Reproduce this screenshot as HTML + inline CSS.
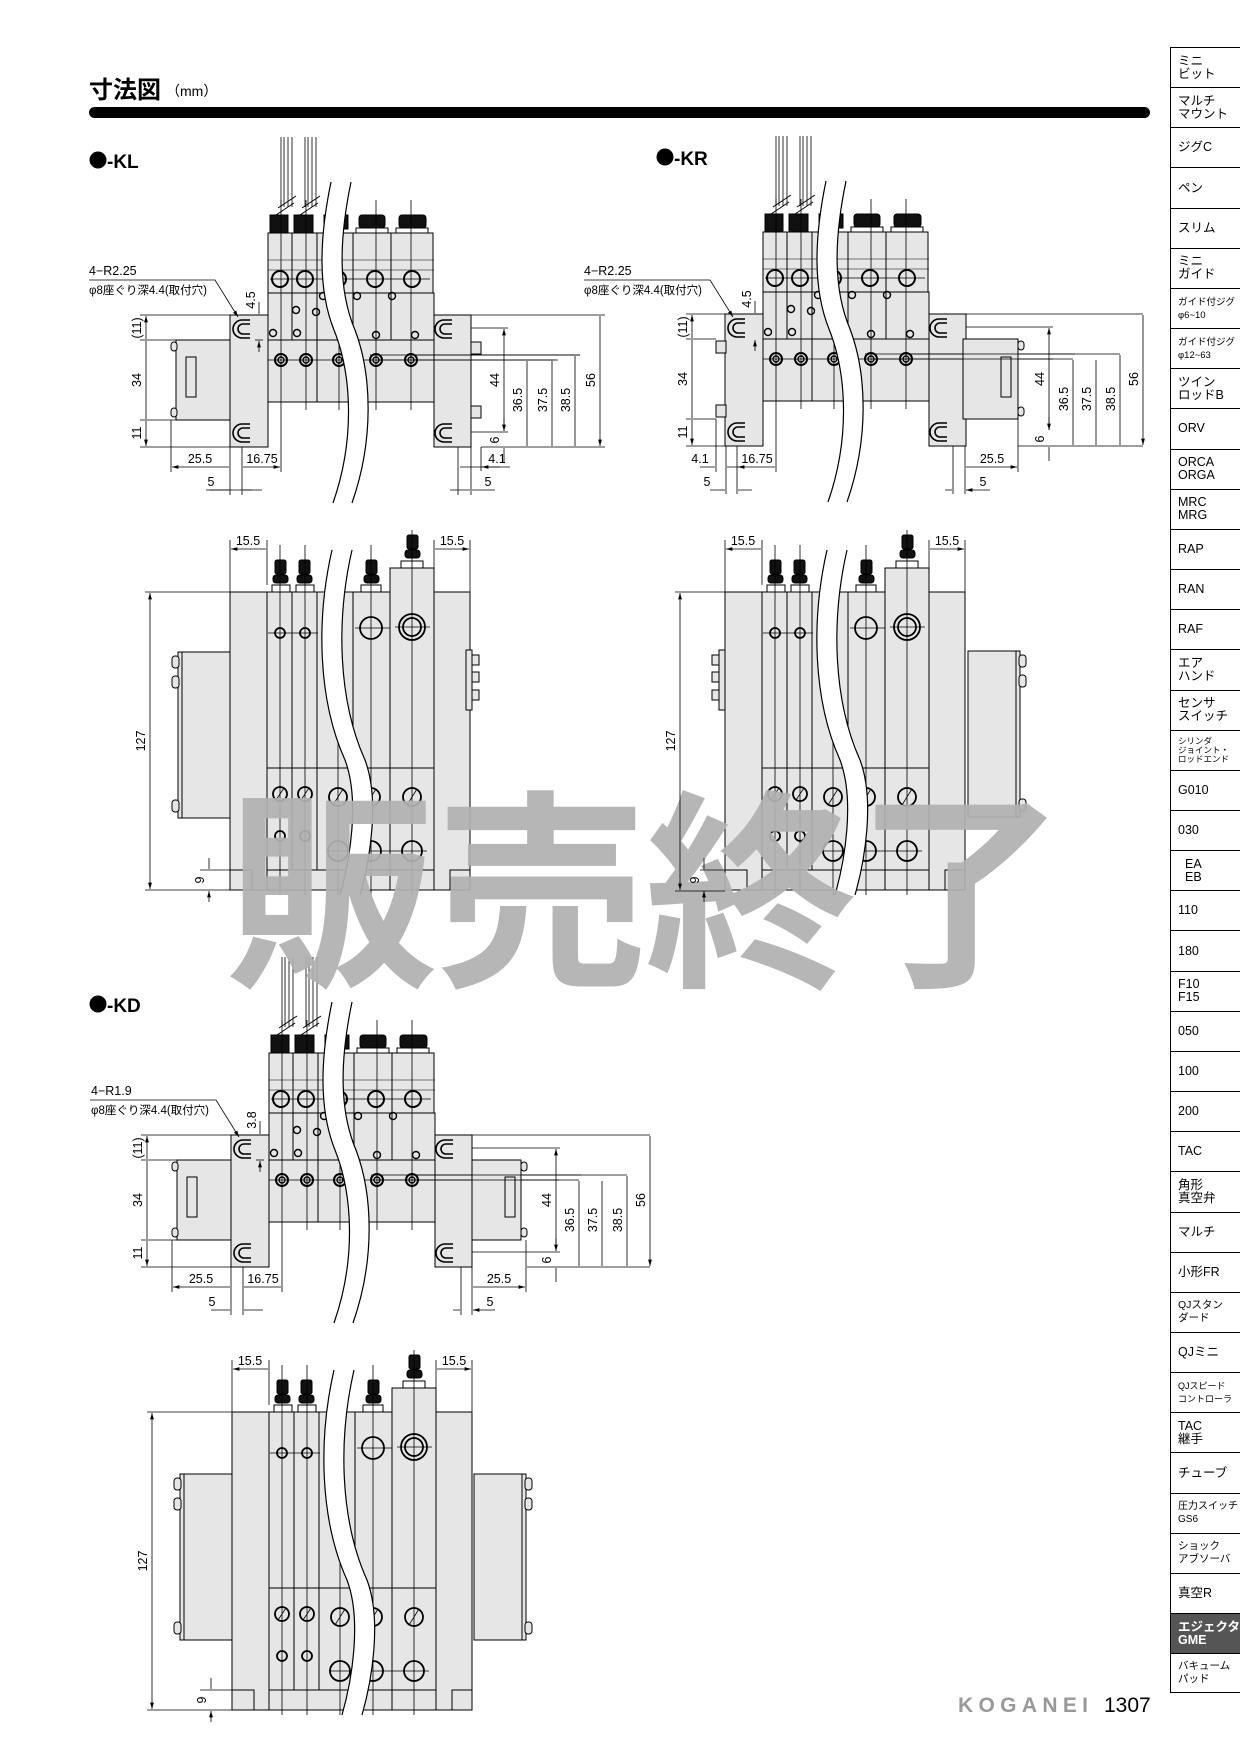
<!DOCTYPE html>
<html><head><meta charset="utf-8"><style>
html,body{margin:0;padding:0;background:#fff}
body{width:1240px;height:1754px;position:relative;overflow:hidden;font-family:"Liberation Sans","Noto Sans CJK JP",sans-serif}
#sb{position:absolute;left:1170px;top:47px;width:70px}
#sb div{border-top:1px solid #000;border-left:1px solid #000;font-size:12.5px;line-height:13px;padding:0 0 0 7px;box-sizing:border-box;height:40.17px;display:flex;flex-direction:column;justify-content:center}
#sb div.d{background:#555;color:#fff;font-weight:bold}
#sb div:last-child{border-bottom:1px solid #000}
svg text{font-family:"Liberation Sans","Noto Sans CJK JP",sans-serif}
</style></head><body>
<svg width="1240" height="1754" viewBox="0 0 1240 1754" style="position:absolute;left:0;top:0">
<defs>
<marker id="a" viewBox="0 0 10 6" refX="10" refY="3" markerWidth="8" markerHeight="5" orient="auto-start-reverse"><path d="M0 0L10 3L0 6z" fill="#000"/></marker>
<g id="sideCore" stroke="#000" stroke-width="1">
 <rect x="230" y="315" width="38" height="132" fill="#e6e6e6"/>
 <rect x="434" y="315" width="37" height="132" fill="#e6e6e6"/>
 <path d="M250 320h-8a9 9 0 0 0 0 18h8M250 324h-7a5 5 0 0 0 0 10h7M250 424h-8a9 9 0 0 0 0 18h8M250 428h-7a5 5 0 0 0 0 10h7M452 320h-8a9 9 0 0 0 0 18h8M452 324h-7a5 5 0 0 0 0 10h7M452 424h-8a9 9 0 0 0 0 18h8M452 428h-7a5 5 0 0 0 0 10h7" fill="none" stroke-width="1.6"/>
 <rect x="268" y="340" width="166" height="62" fill="#e6e6e6"/>
 <rect x="268" y="293" width="166" height="47" fill="#e6e6e6"/>
 <path d="M292 293v47M317 293v109M353 293v109M391 293v47" fill="none"/>
 <rect x="268" y="233" width="24" height="60" fill="#e6e6e6"/><rect x="292" y="233" width="25" height="60" fill="#e6e6e6"/>
 <rect x="317" y="233" width="36" height="60" fill="#e6e6e6"/><rect x="353" y="233" width="38" height="60" fill="#e6e6e6"/><rect x="391" y="233" width="42" height="60" fill="#e6e6e6"/>
 <rect x="270" y="215" width="18" height="18" fill="#111"/><rect x="294" y="215" width="19" height="18" fill="#111"/><rect x="324" y="215" width="24" height="14" fill="#111"/><rect x="359" y="215" width="26" height="13" rx="3" fill="#111"/><rect x="399" y="215" width="27" height="13" rx="3" fill="#111"/>
 <rect x="356" y="228" width="32" height="5" fill="#fff"/><rect x="396" y="228" width="32" height="5" fill="#fff"/>
 <path d="M268 260h166M268 270h166" fill="none" stroke-width=".6"/>
 <g fill="none" stroke-width="2"><circle cx="280" cy="279" r="8"/><circle cx="305" cy="279" r="8"/><circle cx="338" cy="279" r="8"/><circle cx="375" cy="279" r="8"/><circle cx="412" cy="279" r="8"/>
 <circle cx="281" cy="360" r="6"/><circle cx="306" cy="360" r="6"/><circle cx="339" cy="360" r="6"/><circle cx="376" cy="360" r="6"/><circle cx="411" cy="360" r="6"/></g>
 <g fill="none" stroke-width="1.4"><circle cx="281" cy="360" r="3"/><circle cx="306" cy="360" r="3"/><circle cx="339" cy="360" r="3"/><circle cx="376" cy="360" r="3"/><circle cx="411" cy="360" r="3"/>
 <circle cx="296" cy="310" r="3.5"/><circle cx="316" cy="312" r="3.5"/><circle cx="273" cy="333" r="3.5"/><circle cx="297" cy="333" r="3.5"/><circle cx="323" cy="296" r="3.5"/><circle cx="357" cy="296" r="3.5"/><circle cx="392" cy="296" r="3.5"/><circle cx="376" cy="335" r="3.5"/><circle cx="415" cy="335" r="3.5"/></g>
 <path d="M281 200v210M306 200v210M339 215v195M376 200v210M411 200v210M268 360h290M370 355h210M270 279h160" fill="none" stroke-width=".8"/>
 <path d="M281 137v70M292 137v70M305 137v70M316 137v70M284 137v70M288 137v70M308 137v70M312 137v70" fill="none" stroke-width=".8"/>
 <path d="M276 215l18-12M278 208l18-12M300 215l18-12M302 208l18-12" stroke-width="1"/>
 <path d="M331 182C319 240 318 290 334 330C352 375 355 440 333 503L352 503C374 440 372 375 355 330C338 290 339 240 351 182Z" fill="#fff" stroke="none"/>
 <path d="M331 182C319 240 318 290 334 330C352 375 355 440 333 503M351 182C339 240 338 290 355 330C372 375 374 440 352 503" fill="none" stroke-width="1.2"/>
</g>
<g id="topCore" stroke="#000" stroke-width="1">
 <rect x="230" y="592" width="37" height="298" fill="#e6e6e6"/>
 <rect x="267" y="592" width="167" height="298" fill="#e6e6e6"/>
 <rect x="390" y="568" width="44" height="322" fill="#e6e6e6"/>
 <rect x="434" y="592" width="36" height="298" fill="#e6e6e6"/>
 <path d="M230 870h22v20M450 890v-20h20M267 768h167M267 870h167M292 592v278M317 592v278M353 592v278" fill="none"/>
 <g fill="#fff"><rect x="272" y="585" width="18" height="7"/><rect x="296" y="585" width="18" height="7"/><rect x="361" y="585" width="20" height="7"/><rect x="401" y="561" width="22" height="7"/></g>
 <g fill="#111"><rect x="275" y="560" width="11" height="14" rx="2"/><rect x="273" y="575" width="15" height="8" rx="3"/><rect x="299" y="560" width="11" height="14" rx="2"/><rect x="297" y="575" width="15" height="8" rx="3"/><rect x="366" y="560" width="11" height="14" rx="2"/><rect x="364" y="575" width="15" height="8" rx="3"/><rect x="407" y="535" width="11" height="14" rx="2"/><rect x="405" y="550" width="15" height="8" rx="3"/></g>
 <g fill="none" stroke-width="1.8"><circle cx="280" cy="633" r="5"/><circle cx="305" cy="633" r="5"/><circle cx="371" cy="628" r="11"/><circle cx="412" cy="627" r="13"/><circle cx="412" cy="627" r="9"/>
 <circle cx="280" cy="794" r="7"/><circle cx="305" cy="794" r="7"/><circle cx="338" cy="797" r="9"/><circle cx="371" cy="797" r="9"/><circle cx="412" cy="797" r="9"/>
 <circle cx="280" cy="836" r="5"/><circle cx="305" cy="836" r="5"/><circle cx="338" cy="851" r="10"/><circle cx="371" cy="851" r="10"/><circle cx="412" cy="851" r="10"/></g>
 <path d="M276 800l8-12M301 800l8-12M333 805l10-16M366 805l10-16M407 805l10-16M280 545v350M305 545v350M338 592v303M371 545v350M412 530v365M268 633h50M355 628h35M395 627h35M327 851h100" fill="none" stroke-width=".8"/>
 <path d="M332 550C316 620 318 700 345 760C360 800 350 860 340 895L360 895C370 860 380 800 365 760C338 700 336 620 352 550Z" fill="#fff" stroke="none"/>
 <path d="M332 550C316 620 318 700 345 760C360 800 350 860 340 895M352 550C336 620 338 700 365 760C380 800 370 860 360 895" fill="none" stroke-width="1.2"/>
</g>
<g id="bigTab" stroke="#000" fill="#e6e6e6"><rect x="0" y="0" width="52" height="166"/><path d="M4 0v166" fill="none"/></g>
</defs>

<text x="89" y="98" font-size="24" font-weight="bold">寸法図</text><text x="166" y="96" font-size="14">（mm）</text>
<rect x="89" y="107" width="1061" height="11" rx="5.5" fill="#000"/>
<circle cx="98" cy="160" r="8.5"/><text x="107" y="168" font-size="19" font-weight="bold">-KL</text>
<circle cx="665" cy="157" r="8.5"/><text x="674" y="165" font-size="19" font-weight="bold">-KR</text>
<circle cx="98" cy="1004" r="8.5"/><text x="107" y="1012" font-size="19" font-weight="bold">-KD</text>

<use href="#sideCore"/>
<g stroke="#000" fill="#e6e6e6"><rect x="176" y="340" width="54" height="80"/><rect x="186" y="357" width="10" height="40" fill="none"/><rect x="171" y="342" width="6" height="9" rx="3"/><rect x="171" y="408" width="6" height="9" rx="3"/>
<rect x="471" y="342" width="10" height="12"/><rect x="471" y="406" width="10" height="12"/></g>
<use href="#sideCore" transform="translate(495,-1)"/>
<g stroke="#000" fill="#e6e6e6"><rect x="963" y="339" width="55" height="80"/><rect x="1001" y="357" width="10" height="40" fill="none"/><rect x="1018" y="341" width="6" height="9" rx="3"/><rect x="1018" y="407" width="6" height="9" rx="3"/>
<rect x="716" y="341" width="10" height="12"/><rect x="716" y="405" width="10" height="12"/></g>
<use href="#sideCore" transform="translate(1,820)"/>
<g stroke="#000" fill="#e6e6e6"><rect x="177" y="1160" width="54" height="80"/><rect x="187" y="1177" width="10" height="40" fill="none"/><rect x="172" y="1162" width="6" height="9" rx="3"/><rect x="172" y="1228" width="6" height="9" rx="3"/>
<rect x="472" y="1160" width="49" height="80"/><rect x="505" y="1177" width="10" height="40" fill="none"/><rect x="521" y="1162" width="6" height="9" rx="3"/><rect x="521" y="1228" width="6" height="9" rx="3"/></g>

<use href="#topCore"/>
<use href="#topCore" transform="translate(495,0)"/>
<use href="#topCore" transform="translate(2,820)"/>
<use href="#bigTab" transform="translate(178,652)"/>
<use href="#bigTab" transform="translate(1020,651) scale(-1,1)"/>
<use href="#bigTab" transform="translate(180,1474)"/>
<use href="#bigTab" transform="translate(526,1474) scale(-1,1)"/>
<g stroke="#000" fill="#e6e6e6">
<rect x="172" y="656" width="7" height="12" rx="3"/><rect x="172" y="676" width="7" height="12" rx="3"/><rect x="172" y="800" width="7" height="12" rx="3"/>
<rect x="1019" y="655" width="7" height="12" rx="3"/><rect x="1019" y="675" width="7" height="12" rx="3"/><rect x="1019" y="799" width="7" height="12" rx="3"/>
<rect x="174" y="1478" width="7" height="12" rx="3"/><rect x="174" y="1498" width="7" height="12" rx="3"/><rect x="174" y="1622" width="7" height="12" rx="3"/>
<rect x="525" y="1478" width="7" height="12" rx="3"/><rect x="525" y="1498" width="7" height="12" rx="3"/><rect x="525" y="1622" width="7" height="12" rx="3"/>
<rect x="466" y="650" width="6" height="60"/><rect x="472" y="655" width="7" height="10"/><rect x="472" y="672" width="7" height="10"/><rect x="472" y="690" width="7" height="10"/>
<rect x="719" y="650" width="6" height="60"/><rect x="712" y="655" width="7" height="10"/><rect x="712" y="672" width="7" height="10"/><rect x="712" y="690" width="7" height="10"/>
</g>

<text x="226" y="970" font-size="212" fill="#b0b0b0" fill-opacity="0.93" textLength="840" font-family="Noto Sans CJK JP, sans-serif" font-weight="bold">販売終了</text>

<g stroke="#000" stroke-width=".8" fill="none">
<path d="M140 315h90M140 340h36M140 420h36M140 447h90"/>
<path d="M146 316v23M146 341v78M146 421v25" marker-start="url(#a)" marker-end="url(#a)"/>
<path d="M471 315h134M471 328h37M411 355h169M376 360h179M471 432h37M481 447h124"/>
<path d="M504 329v102M527 361v85M552 361v85M575 356v90M600 316v130" marker-start="url(#a)" marker-end="url(#a)"/>
<path d="M504 462v-14M504 418v13" marker-end="url(#a)"/>
<path d="M171 420v52M230 447v48M242 447v48M281 410v62M458 447v48M471 447v48M481 447v24"/>
<path d="M172 467h57M243 467h37" marker-start="url(#a)" marker-end="url(#a)"/>
<path d="M210 490h19M262 490h-19M450 490h20M495 490h-23M460 467h10M510 467h-28" marker-end="url(#a)"/>
<path d="M206 490h46M500 467h-30"/>
<path d="M255 340h8"/>
<path d="M259 302v12M259 352v-11" marker-end="url(#a)"/>
<path d="M89 280h126l23 37" marker-end="url(#a)"/>
<path d="M686 314h40M686 339h30M686 419h30M686 446h40"/>
<path d="M692 315v23M692 340v78M692 420v25" marker-start="url(#a)" marker-end="url(#a)"/>
<path d="M966 314h177M966 327h87M906 354h214M871 359h202M1018 446h125"/>
<path d="M1049 328v102M1073 360v85M1096 360v85M1120 355v90M1143 315v130" marker-start="url(#a)" marker-end="url(#a)"/>
<path d="M1049 461v-14M1049 417v13" marker-end="url(#a)"/>
<path d="M716 419v53M726 446v48M737 446v48M776 409v63M953 446v48M965 446v48M1018 419v53"/>
<path d="M738 467h37M966 467h51" marker-start="url(#a)" marker-end="url(#a)"/>
<path d="M700 467h15M745 467h-18M710 490h15M752 490h-14M945 490h7M990 490h-24" marker-end="url(#a)"/>
<path d="M755 301v12M755 351v-11" marker-end="url(#a)"/>
<path d="M584 280h126l23 37" marker-end="url(#a)"/>
<path d="M141 1135h90M141 1160h36M141 1240h36M141 1267h90"/>
<path d="M147 1136v23M147 1161v78M147 1241v25" marker-start="url(#a)" marker-end="url(#a)"/>
<path d="M472 1135h178M472 1148h88M412 1175h215M377 1180h202M472 1252h88M527 1267h123"/>
<path d="M556 1149v102M579 1181v85M602 1181v85M627 1176v90M650 1136v130" marker-start="url(#a)" marker-end="url(#a)"/>
<path d="M556 1282v-14M556 1238v13" marker-end="url(#a)"/>
<path d="M172 1240v52M231 1267v48M243 1267v48M282 1230v62M461 1267v48M472 1267v48M526 1240v52"/>
<path d="M173 1287h57M244 1287h37M473 1287h52" marker-start="url(#a)" marker-end="url(#a)"/>
<path d="M211 1310h19M263 1310h-19M453 1310h7M495 1310h-22" marker-end="url(#a)"/>
<path d="M90 1100h126l23 37" marker-end="url(#a)"/>
<path d="M260 1121v13M260 1172v-11" marker-end="url(#a)"/>
<path d="M256 1160h8"/>
<path d="M145 592h85M145 890h85"/>
<path d="M150 593v296" marker-start="url(#a)" marker-end="url(#a)"/>
<path d="M230 592v-52M267 585v-45M434 568v-28M470 592v-52"/>
<path d="M231 549h35M435 549h34" marker-start="url(#a)" marker-end="url(#a)"/>
<path d="M200 870h30"/><path d="M209 858v11M209 902v-11" marker-end="url(#a)"/>
<path d="M675 592h50M675 891h50"/>
<path d="M680 593v297" marker-start="url(#a)" marker-end="url(#a)"/>
<path d="M725 592v-52M762 585v-45M929 568v-28M965 592v-52"/>
<path d="M726 549h35M930 549h34" marker-start="url(#a)" marker-end="url(#a)"/>
<path d="M700 870h25"/><path d="M704 858v11M704 902v-11" marker-end="url(#a)"/>
<path d="M147 1412h85M147 1710h85"/>
<path d="M152 1413v296" marker-start="url(#a)" marker-end="url(#a)"/>
<path d="M232 1412v-52M269 1405v-45M436 1388v-28M472 1412v-52"/>
<path d="M233 1369h35M437 1369h34" marker-start="url(#a)" marker-end="url(#a)"/>
<path d="M200 1690h32"/><path d="M211 1678v11M211 1722v-11" marker-end="url(#a)"/>
</g>

<g font-size="12.5" fill="#000">
<text x="89" y="275">4−R2.25</text><text x="89" y="294" font-size="11.5">φ8座ぐり深4.4(取付穴)</text>
<text x="584" y="275">4−R2.25</text><text x="584" y="294" font-size="11.5">φ8座ぐり深4.4(取付穴)</text>
<text x="91" y="1095">4−R1.9</text><text x="91" y="1114" font-size="11.5">φ8座ぐり深4.4(取付穴)</text>
<g text-anchor="middle">
<text transform="translate(141,328) rotate(-90)">(11)</text><text transform="translate(141,380) rotate(-90)">34</text><text transform="translate(141,433) rotate(-90)">11</text>
<text transform="translate(499,380) rotate(-90)">44</text><text transform="translate(522,400) rotate(-90)">36.5</text><text transform="translate(547,400) rotate(-90)">37.5</text><text transform="translate(570,400) rotate(-90)">38.5</text><text transform="translate(595,380) rotate(-90)">56</text><text transform="translate(499,440) rotate(-90)">6</text>
<text transform="translate(255,300) rotate(-90)">4.5</text>
<text x="200" y="463">25.5</text><text x="262" y="463">16.75</text><text x="211" y="486">5</text><text x="497" y="463">4.1</text><text x="488" y="486">5</text>
<text transform="translate(687,327) rotate(-90)">(11)</text><text transform="translate(687,379) rotate(-90)">34</text><text transform="translate(687,432) rotate(-90)">11</text>
<text transform="translate(1044,379) rotate(-90)">44</text><text transform="translate(1068,399) rotate(-90)">36.5</text><text transform="translate(1091,399) rotate(-90)">37.5</text><text transform="translate(1115,399) rotate(-90)">38.5</text><text transform="translate(1138,379) rotate(-90)">56</text><text transform="translate(1044,439) rotate(-90)">6</text>
<text transform="translate(751,299) rotate(-90)">4.5</text>
<text x="700" y="463">4.1</text><text x="757" y="463">16.75</text><text x="707" y="486">5</text><text x="992" y="463">25.5</text><text x="983" y="486">5</text>
<text transform="translate(142,1148) rotate(-90)">(11)</text><text transform="translate(142,1200) rotate(-90)">34</text><text transform="translate(142,1253) rotate(-90)">11</text>
<text transform="translate(551,1200) rotate(-90)">44</text><text transform="translate(574,1220) rotate(-90)">36.5</text><text transform="translate(597,1220) rotate(-90)">37.5</text><text transform="translate(622,1220) rotate(-90)">38.5</text><text transform="translate(645,1200) rotate(-90)">56</text><text transform="translate(551,1260) rotate(-90)">6</text>
<text transform="translate(256,1120) rotate(-90)">3.8</text>
<text x="201" y="1283">25.5</text><text x="263" y="1283">16.75</text><text x="212" y="1306">5</text><text x="499" y="1283">25.5</text><text x="490" y="1306">5</text>
<text transform="translate(145,741) rotate(-90)">127</text><text x="248" y="545">15.5</text><text x="452" y="545">15.5</text><text transform="translate(204,880) rotate(-90)">9</text>
<text transform="translate(675,741) rotate(-90)">127</text><text x="743" y="545">15.5</text><text x="947" y="545">15.5</text><text transform="translate(699,880) rotate(-90)">9</text>
<text transform="translate(147,1561) rotate(-90)">127</text><text x="250" y="1365">15.5</text><text x="454" y="1365">15.5</text><text transform="translate(206,1700) rotate(-90)">9</text>
</g></g>

<text x="958" y="1712" font-size="21" font-weight="bold" fill="#999" letter-spacing="2" textLength="132">KOGANEI</text>
<text x="1104" y="1712" font-size="21" fill="#000">1307</text>
</svg>

<div id="sb">
<div>ミニ<br>ビット</div><div>マルチ<br>マウント</div><div>ジグC</div><div>ペン</div><div>スリム</div><div>ミニ<br>ガイド</div>
<div style="font-size:9.5px">ガイド付ジグ<br>φ6~10</div><div style="font-size:9.5px">ガイド付ジグ<br>φ12~63</div><div>ツイン<br>ロッドB</div><div>ORV</div>
<div>ORCA<br>ORGA</div><div>MRC<br>MRG</div><div>RAP</div><div>RAN</div><div>RAF</div><div>エア<br>ハンド</div><div>センサ<br>スイッチ</div>
<div style="font-size:8.5px;line-height:9px">シリンダ<br>ジョイント・<br>ロッドエンド</div><div>G010</div><div>030</div><div style="padding-left:14px">EA<br>EB</div><div>110</div><div>180</div>
<div>F10<br>F15</div><div>050</div><div>100</div><div>200</div><div>TAC</div><div>角形<br>真空弁</div><div>マルチ</div><div>小形FR</div>
<div style="font-size:10.5px">QJスタン<br>ダード</div><div>QJミニ</div><div style="font-size:9px">QJスピード<br>コントローラ</div><div>TAC<br>継手</div><div>チューブ</div>
<div style="font-size:10px">圧力スイッチ<br>GS6</div><div style="font-size:10.5px">ショック<br>アブソーバ</div><div>真空R</div><div class="d">エジェクタ<br>GME</div><div style="font-size:10.5px">バキューム<br>パッド</div>
</div>
</body></html>
